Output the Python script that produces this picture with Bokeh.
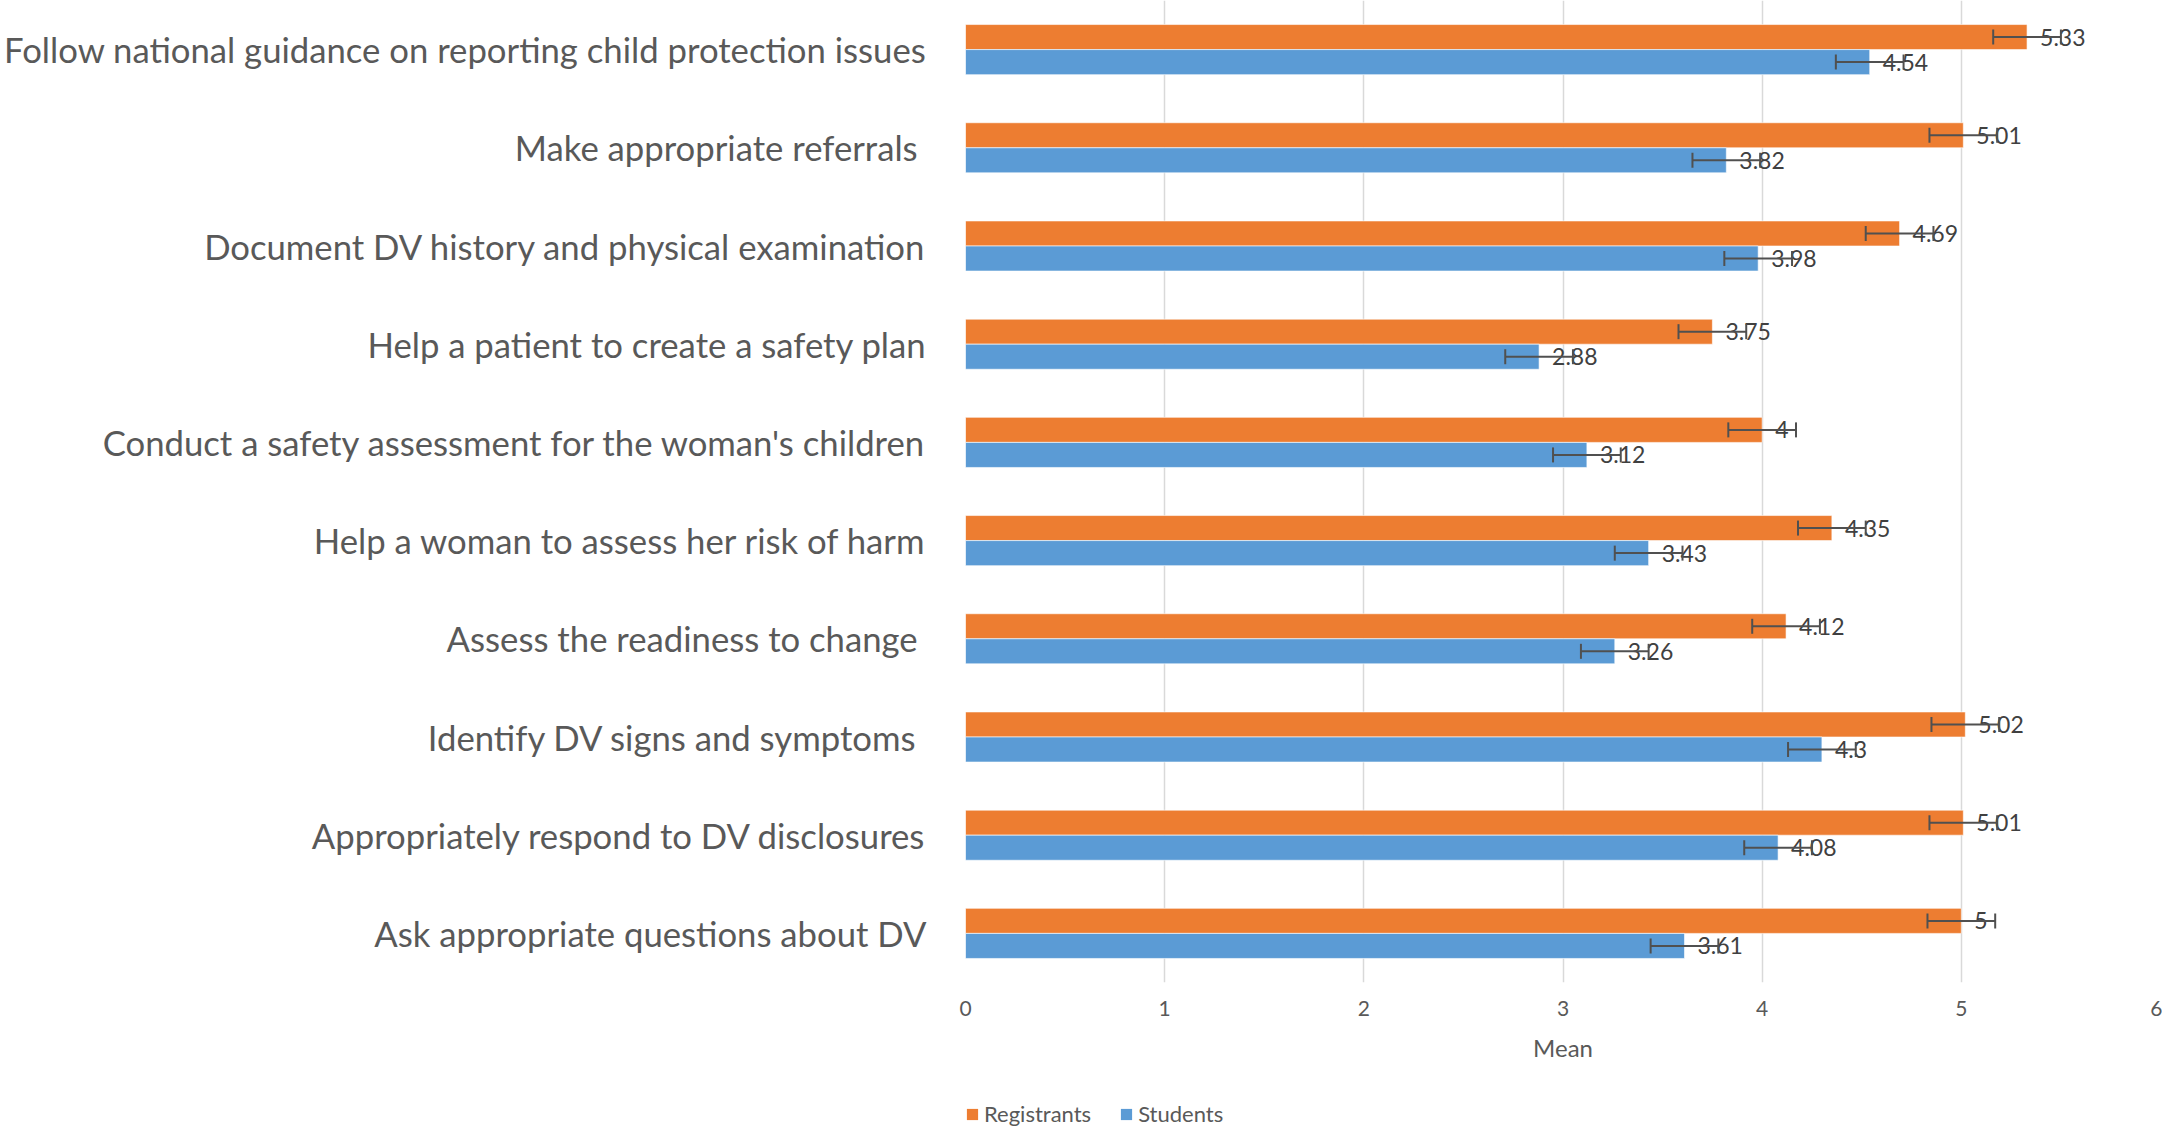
import numpy as np
from bokeh.plotting import figure
from bokeh.layouts import column
from bokeh.models import ColumnDataSource, FactorRange, Range1d, FixedTicker, Legend, LegendItem
from bokeh.transform import dodge
from bokeh.core.properties import value
from bokeh.embed import file_html
from bokeh.resources import INLINE

# ---- data (top to bottom as in the chart) ----
categories = [
    "Follow national guidance on reporting child protection issues",
    "Make appropriate referrals ",
    "Document DV history and physical examination",
    "Help a patient to create a safety plan",
    "Conduct a safety assessment for the woman's children",
    "Help a woman to assess her risk of harm",
    "Assess the readiness to change ",
    "Identify DV signs and symptoms ",
    "Appropriately respond to DV disclosures",
    "Ask appropriate questions about DV",
]
registrants = [5.33, 5.01, 4.69, 3.75, 4.0, 4.35, 4.12, 5.02, 5.01, 5.0]
students = [4.54, 3.82, 3.98, 2.88, 3.12, 3.43, 3.26, 4.30, 4.08, 3.61]
registrants_err = [0.17, 0.17, 0.17, 0.17, 0.17, 0.17, 0.17, 0.17, 0.17, 0.17]
students_err = [0.17, 0.17, 0.17, 0.17, 0.17, 0.17, 0.17, 0.17, 0.17, 0.17]
x_ticks = [0, 1, 2, 3, 4, 5, 6]
series_names = ["Registrants", "Students"]

ORANGE = "#ED7D31"
BLUE = "#5B9BD5"
TEXT = "#595959"
ERR = "#505050"
FONT = "Lato"

LEFT = 965
FRAME_W = 1195
RIGHT = 2

reg = np.array(registrants)
stu = np.array(students)
reg_e = np.array(registrants_err)
stu_e = np.array(students_err)

source = ColumnDataSource(dict(
    cat=categories,
    reg=registrants, stu=students,
    reg_lo=list(reg - reg_e), reg_hi=list(reg + reg_e),
    stu_lo=list(stu - stu_e), stu_hi=list(stu + stu_e),
    reg_lbl=[f"{v:g}" for v in registrants],
    stu_lbl=[f"{v:g}" for v in students],
))

p = figure(
    frame_width=FRAME_W, frame_height=982,
    y_range=FactorRange(factors=list(reversed(categories)), range_padding=0.0),
    x_range=Range1d(0, 6),
    output_backend="svg", toolbar_location=None,
    min_border_left=LEFT, min_border_right=RIGHT, min_border_top=0, min_border_bottom=90,
)
p.outline_line_color = None
p.background_fill_color = "white"
p.border_fill_color = "white"

OFF = 0.1275
H = 0.255
y_reg = dodge("cat", OFF, range=p.y_range)
y_stu = dodge("cat", -OFF, range=p.y_range)

bar_style = dict(line_color="white", line_width=1, line_alpha=0.6)
p.hbar(y=y_reg, left=0, right="reg", height=H, source=source, fill_color=ORANGE, **bar_style)
p.hbar(y=y_stu, left=0, right="stu", height=H, source=source, fill_color=BLUE, **bar_style)

# data labels
for col, yy in (("reg", y_reg), ("stu", y_stu)):
    p.text(x=col, y=yy, text=col + "_lbl", source=source, x_offset=13,
           text_baseline="middle", text_align="left",
           text_font=value(FONT), text_font_size="23px", text_color="#404040")

# error bars
for lo, hi, yy in (("reg_lo", "reg_hi", y_reg), ("stu_lo", "stu_hi", y_stu)):
    p.segment(x0=lo, y0=yy, x1=hi, y1=yy, source=source, line_color=ERR, line_width=2)
    for c in (lo, hi):
        p.scatter(x=c, y=yy, source=source, marker="dash", angle=np.pi / 2, size=15,
                  line_color=ERR, line_width=2)

# axes
p.xaxis.ticker = FixedTicker(ticks=x_ticks)
p.xaxis.axis_label = "Mean"
p.xaxis.axis_label_text_font = FONT
p.xaxis.axis_label_text_font_style = "normal"
p.xaxis.axis_label_text_font_size = "24px"
p.xaxis.axis_label_text_color = TEXT
p.xaxis.axis_label_standoff = 14
p.xaxis.major_label_text_font = FONT
p.xaxis.major_label_text_font_size = "21px"
p.xaxis.major_label_text_color = TEXT
p.xaxis.major_label_standoff = 12
p.xaxis.axis_line_color = None
p.xaxis.major_tick_line_color = None
p.xaxis.minor_tick_line_color = None

p.yaxis.major_label_text_font = FONT
p.yaxis.major_label_text_font_size = "34.7px"
p.yaxis.major_label_text_color = TEXT
p.yaxis.major_label_standoff = 33
p.yaxis.axis_line_color = None
p.yaxis.major_tick_line_color = None
p.yaxis.minor_tick_line_color = None

p.xgrid.grid_line_color = "#D9D9D9"
p.xgrid.grid_line_width = 1.5
p.ygrid.grid_line_color = None

# ---- legend strip below the chart (frame is aligned with the main chart's frame) ----
LEG_H = 57
lg = figure(width=LEFT + FRAME_W + RIGHT, height=LEG_H,
            x_range=p.x_range, y_range=p.y_range,
            output_backend="svg", toolbar_location=None,
            min_border_left=LEFT, min_border_right=RIGHT, min_border_top=0, min_border_bottom=0)
lg.axis.visible = False
lg.grid.grid_line_color = None
lg.outline_line_color = None
lg.background_fill_color = "white"
lg.border_fill_color = "white"
lr_reg = lg.hbar(y=y_reg, left=0, right="reg", height=H, source=source,
                 fill_color=ORANGE, line_color=None, visible=False)
lr_stu = lg.hbar(y=y_stu, left=0, right="stu", height=H, source=source,
                 fill_color=BLUE, line_color=None, visible=False)

legend = Legend(items=[LegendItem(label=series_names[0], renderers=[lr_reg]),
                       LegendItem(label=series_names[1], renderers=[lr_stu])],
                orientation="horizontal", location=(0, 2), click_policy="none",
                label_text_font=FONT, label_text_font_size="22px", label_text_color=TEXT,
                glyph_width=14, glyph_height=14, spacing=28, padding=2, margin=0,
                label_standoff=5, border_line_color=None, background_fill_alpha=0)
lg.add_layout(legend, "center")

layout = column(p, lg, spacing=0)
open("out.html", "w").write(file_html(layout, INLINE))
